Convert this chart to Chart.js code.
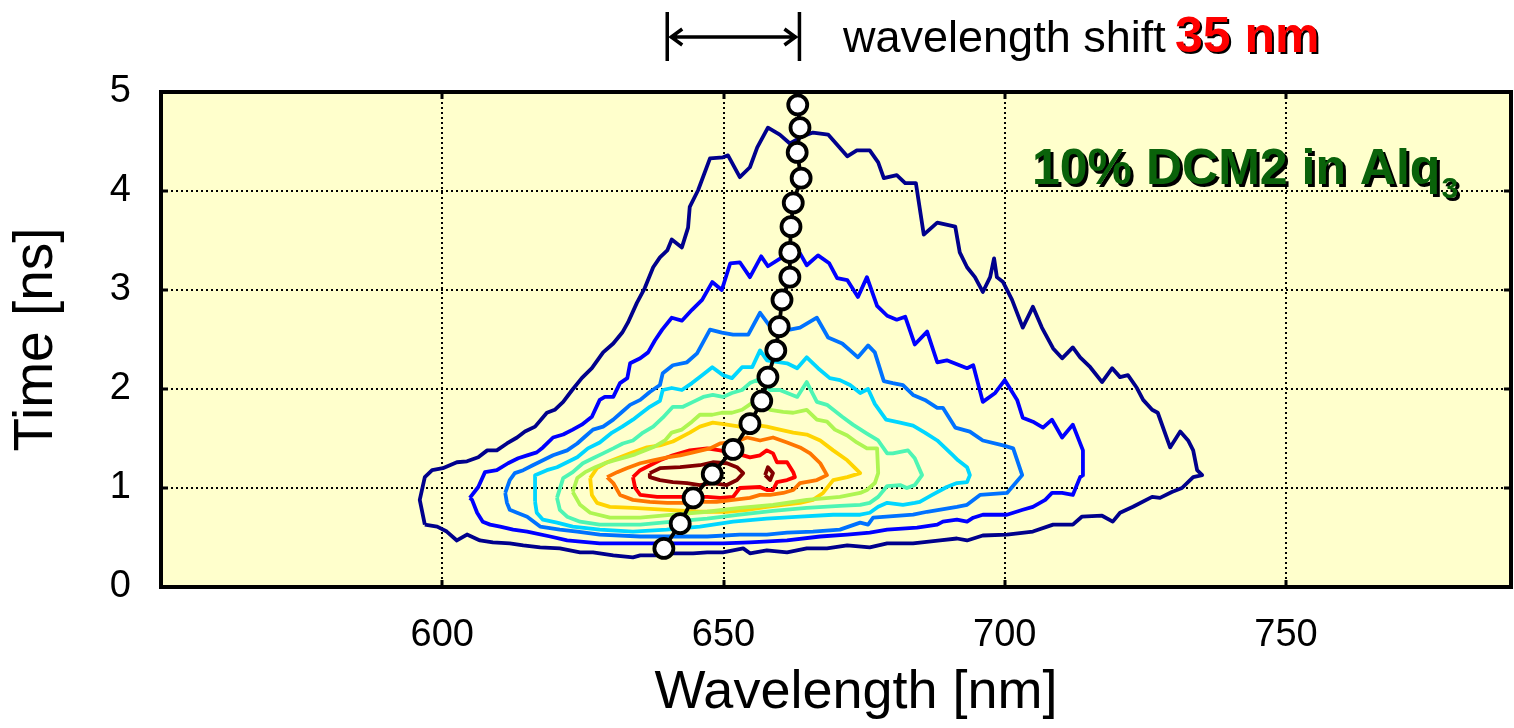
<!DOCTYPE html>
<html>
<head>
<meta charset="utf-8">
<script src="https://cdn.jsdelivr.net/npm/chart.js@4.4.1/dist/chart.umd.min.js"></script>
<style>
  html, body { margin: 0; padding: 0; background: #fff; }
</style>
</head>
<body>
<canvas id="chart" width="1514" height="728"></canvas>
<script>
// axis setup
const xRange = [550, 790];
const yRange = [0, 5];
const xTicks = [600, 650, 700, 750];
const yTicks = [0, 1, 2, 3, 4, 5];

// jet colour for each contour level, outermost first
const levelColors = ["#00008c", "#0000ff", "#0072ff", "#00d6ff", "#4ef5b4", "#aef552", "#ffd400", "#ff7600", "#ff0000", "#820000"];

// contour lines, [wavelength nm, time ns]
const contourNavy = [[596.9,0.63],[596.0,0.88],[596.9,1.11],[598.2,1.18],[600.1,1.20],[602.6,1.26],[604.4,1.27],[606.4,1.31],[608.0,1.38],[609.7,1.38],[611.5,1.45],[613.3,1.51],[614.7,1.57],[616.5,1.62],[618.6,1.76],[620.0,1.79],[621.5,1.87],[623.1,1.99],[624.8,2.11],[626.6,2.21],[628.6,2.37],[630.4,2.46],[632.0,2.57],[633.0,2.67],[634.6,2.87],[636.0,3.02],[637.5,3.23],[638.7,3.33],[640.0,3.40],[640.8,3.51],[642.6,3.43],[643.7,3.63],[644.0,3.84],[645.5,4.01],[647.6,4.33],[649.9,4.34],[650.8,4.36],[652.9,4.14],[654.7,4.24],[656.0,4.44],[657.9,4.64],[660.0,4.57],[661.8,4.48],[664.0,4.55],[665.9,4.59],[668.6,4.57],[672.0,4.35],[673.7,4.41],[676.0,4.41],[677.5,4.29],[678.5,4.13],[680.8,4.16],[682.3,4.08],[684.2,4.08],[685.6,3.56],[688.0,3.68],[691.2,3.64],[692.0,3.38],[693.3,3.23],[694.7,3.13],[696.1,2.98],[697.4,3.13],[698.1,3.32],[698.6,3.13],[699.7,3.08],[701.3,2.90],[703.2,2.62],[705.0,2.83],[706.6,2.62],[708.6,2.41],[710.2,2.31],[712.1,2.42],[713.4,2.32],[715.2,2.22],[717.3,2.07],[719.1,2.21],[720.5,2.12],[721.9,2.14],[723.5,2.01],[724.6,1.89],[726.2,1.79],[727.2,1.76],[729.4,1.41],[731.2,1.57],[732.6,1.48],[733.5,1.38],[734.2,1.18],[735.1,1.13],[733.5,1.11],[731.5,1.00],[729.7,0.96],[727.6,0.90],[726.2,0.91],[722.8,0.81],[720.5,0.75],[719.2,0.66],[717.3,0.72],[713.7,0.71],[712.1,0.63],[708.6,0.63],[705.0,0.56],[700.4,0.53],[696.1,0.52],[693.3,0.47],[691.5,0.49],[688.5,0.47],[683.7,0.44],[679.1,0.44],[676.0,0.40],[672.0,0.42],[668.4,0.39],[664.8,0.39],[661.3,0.35],[657.7,0.37],[654.7,0.34],[653.5,0.39],[649.9,0.35],[647.1,0.35],[644.6,0.34],[641.0,0.34],[638.7,0.32],[635.2,0.32],[633.9,0.30],[630.4,0.32],[626.8,0.35],[624.5,0.35],[620.9,0.39],[617.4,0.40],[614.4,0.42],[612.0,0.44],[609.0,0.45],[606.7,0.47],[604.4,0.53],[602.6,0.47],[600.8,0.56],[599.1,0.61],[596.9,0.63]];
const contourBlue = [[604.9,0.90],[606.4,1.01],[607.6,1.16],[609.7,1.18],[611.7,1.25],[613.5,1.30],[615.1,1.33],[616.8,1.36],[617.9,1.41],[619.7,1.51],[621.5,1.54],[623.2,1.59],[624.8,1.64],[626.6,1.72],[628.0,1.89],[628.9,1.92],[630.4,1.92],[631.6,2.06],[632.9,2.11],[633.4,2.26],[635.2,2.31],[636.6,2.37],[637.8,2.49],[639.1,2.60],[640.8,2.72],[642.6,2.69],[644.4,2.80],[646.2,2.90],[648.0,3.08],[649.7,3.00],[651.2,3.27],[652.9,3.28],[654.7,3.13],[656.7,3.34],[657.9,3.24],[660.4,3.33],[663.6,3.37],[664.8,3.25],[666.8,3.35],[668.8,3.27],[670.2,3.12],[672.0,3.10],[673.9,2.93],[675.5,3.13],[677.3,2.84],[679.1,2.74],[680.8,2.70],[682.3,2.73],[684.0,2.45],[686.2,2.58],[688.0,2.27],[689.7,2.29],[693.3,2.21],[694.4,2.24],[696.1,1.87],[698.3,1.96],[700.0,2.09],[702.2,1.89],[703.2,1.71],[705.0,1.67],[706.8,1.61],[708.4,1.69],[710.2,1.51],[712.1,1.64],[713.9,1.38],[713.9,1.13],[713.4,1.11],[712.1,0.93],[710.2,0.95],[708.4,0.95],[707.2,0.88],[705.0,0.81],[703.2,0.78],[700.4,0.73],[696.1,0.73],[694.4,0.70],[693.3,0.66],[691.5,0.68],[689.0,0.66],[688.0,0.63],[684.4,0.60],[679.1,0.58],[676.0,0.55],[672.0,0.53],[667.2,0.51],[661.3,0.47],[654.7,0.45],[649.9,0.44],[644.0,0.44],[637.5,0.44],[628.0,0.44],[622.2,0.47],[619.2,0.51],[615.1,0.56],[612.6,0.58],[610.3,0.61],[608.5,0.63],[607.2,0.66],[606.2,0.75],[605.3,0.88],[604.9,0.90]];
const contourAzure = [[611.2,0.95],[612.0,1.08],[612.9,1.15],[614.4,1.18],[616.1,1.23],[617.9,1.28],[619.7,1.33],[622.2,1.38],[624.0,1.45],[625.4,1.52],[626.8,1.59],[628.6,1.62],[630.4,1.69],[632.0,1.77],[633.4,1.84],[635.2,1.89],[636.9,1.97],[638.7,2.04],[639.2,2.16],[641.0,2.24],[643.5,2.27],[645.3,2.36],[647.6,2.60],[649.7,2.57],[651.7,2.55],[654.4,2.55],[656.5,2.77],[658.3,2.63],[659.7,2.65],[661.8,2.60],[663.6,2.62],[666.6,2.72],[668.6,2.52],[671.1,2.46],[672.5,2.39],[673.9,2.32],[675.7,2.44],[676.9,2.37],[678.5,2.08],[680.1,2.06],[681.9,2.04],[683.7,1.94],[685.8,1.89],[688.0,1.81],[689.0,1.81],[691.2,1.61],[693.8,1.57],[696.1,1.48],[699.7,1.43],[701.5,1.40],[703.1,1.13],[700.4,0.95],[695.6,0.93],[693.3,0.83],[691.5,0.81],[686.2,0.76],[683.7,0.73],[676.6,0.70],[675.7,0.63],[674.3,0.65],[670.7,0.58],[665.9,0.56],[661.3,0.55],[657.7,0.53],[652.9,0.53],[647.1,0.51],[641.0,0.51],[635.2,0.51],[628.0,0.53],[624.0,0.56],[620.9,0.58],[617.4,0.61],[615.1,0.71],[613.3,0.75],[612.0,0.78],[611.5,0.85],[611.2,0.95]];
const contourCyan = [[616.5,0.86],[616.5,1.13],[618.6,1.18],[620.4,1.21],[622.2,1.26],[624.0,1.31],[625.9,1.40],[628.0,1.46],[630.2,1.56],[632.0,1.62],[633.9,1.69],[635.5,1.76],[636.9,1.82],[638.7,1.88],[639.2,1.99],[640.8,2.01],[642.6,1.99],[644.4,2.06],[646.2,2.14],[648.0,2.22],[649.9,2.14],[651.5,2.11],[653.3,2.22],[655.1,2.22],[656.5,2.39],[657.7,2.29],[661.3,2.26],[663.1,2.21],[664.8,2.32],[666.8,2.21],[668.9,2.11],[670.7,2.09],[672.5,2.04],[674.3,1.96],[675.7,2.00],[676.9,1.85],[678.9,1.69],[681.4,1.66],[683.7,1.63],[685.8,1.56],[688.0,1.48],[690.8,1.33],[691.7,1.28],[693.3,1.21],[693.8,1.13],[693.3,1.06],[691.5,1.05],[689.7,1.01],[687.1,0.93],[684.9,0.86],[684.0,0.85],[681.9,0.83],[679.1,0.85],[677.5,0.81],[676.0,0.75],[674.3,0.73],[669.5,0.73],[663.6,0.71],[657.7,0.69],[651.7,0.66],[645.8,0.61],[639.9,0.58],[633.9,0.56],[628.0,0.58],[623.2,0.61],[620.4,0.65],[617.9,0.68],[616.8,0.75],[616.5,0.86]];
const contourAqua = [[620.4,0.90],[621.5,1.10],[623.2,1.16],[625.0,1.25],[626.8,1.30],[628.6,1.35],[630.4,1.40],[632.1,1.45],[633.9,1.48],[635.7,1.56],[637.5,1.62],[639.2,1.71],[641.0,1.82],[642.8,1.82],[644.6,1.87],[646.4,1.92],[648.1,1.94],[649.9,1.92],[651.5,1.96],[653.3,1.99],[654.7,2.06],[656.0,2.09],[658.3,1.99],[660.0,1.99],[663.1,1.92],[664.8,2.07],[666.6,1.87],[668.4,1.84],[671.1,1.72],[673.0,1.64],[675.5,1.55],[677.5,1.48],[679.1,1.35],[680.1,1.35],[682.8,1.38],[684.0,1.30],[685.3,1.13],[684.0,1.03],[682.6,1.00],[681.4,1.03],[679.1,1.02],[677.5,0.91],[676.0,0.85],[674.3,0.83],[670.7,0.82],[664.8,0.80],[658.8,0.77],[652.9,0.73],[647.1,0.69],[641.0,0.66],[635.2,0.63],[628.0,0.63],[624.5,0.66],[622.2,0.71],[620.9,0.78],[620.4,0.90]];
const contourLime = [[623.2,0.96],[624.0,1.10],[625.4,1.16],[627.2,1.21],[628.9,1.25],[630.7,1.28],[632.5,1.31],[634.3,1.34],[636.0,1.38],[637.8,1.42],[639.6,1.48],[640.8,1.56],[642.6,1.59],[644.4,1.67],[645.8,1.74],[648.0,1.74],[649.7,1.76],[651.5,1.76],[653.3,1.79],[655.1,1.86],[656.5,1.89],[658.3,1.79],[660.6,1.77],[662.4,1.76],[664.8,1.79],[666.6,1.69],[668.4,1.67],[669.8,1.59],[672.0,1.53],[673.7,1.46],[675.5,1.40],[677.3,1.40],[677.5,1.15],[676.9,1.05],[675.5,0.98],[674.3,0.95],[670.7,0.91],[664.8,0.88],[658.8,0.83],[652.9,0.80],[647.1,0.76],[641.0,0.73],[635.2,0.70],[629.8,0.70],[626.3,0.75],[624.5,0.83],[623.2,0.96]];
const contourGold = [[626.3,1.10],[627.5,1.20],[629.3,1.26],[631.6,1.31],[633.9,1.36],[636.4,1.41],[638.7,1.43],[641.0,1.47],[644.0,1.56],[645.8,1.62],[648.1,1.66],[650.6,1.64],[652.9,1.62],[655.2,1.64],[657.7,1.62],[660.0,1.59],[662.4,1.56],[664.8,1.54],[667.2,1.48],[669.5,1.38],[672.0,1.28],[674.3,1.15],[672.0,1.11],[669.5,1.08],[667.7,0.95],[665.9,0.88],[663.6,0.85],[660.6,0.83],[657.7,0.81],[654.2,0.78],[650.6,0.76],[645.8,0.76],[640.0,0.78],[633.9,0.80],[629.8,0.81],[627.5,0.85],[626.6,0.93],[626.3,1.10]];
const contourOrange = [[629.3,1.11],[631.1,1.16],[632.8,1.20],[635.2,1.25],[637.5,1.28],[640.0,1.31],[642.3,1.33],[644.6,1.36],[647.6,1.40],[649.4,1.45],[651.7,1.46],[654.2,1.51],[656.5,1.48],[658.8,1.51],[661.3,1.46],[663.6,1.41],[665.4,1.35],[667.2,1.25],[668.4,1.13],[666.6,1.08],[663.6,1.05],[662.4,0.98],[660.6,0.95],[658.3,0.93],[656.5,0.93],[654.7,0.90],[651.7,0.88],[648.8,0.86],[645.8,0.86],[642.8,0.85],[640.0,0.85],[636.9,0.86],[633.9,0.88],[631.6,0.93],[630.4,1.05],[629.3,1.11]];
const contourRed = [[633.9,1.11],[635.2,1.18],[638.7,1.28],[641.0,1.33],[644.0,1.38],[647.1,1.40],[649.4,1.38],[651.7,1.35],[653.5,1.33],[654.7,1.31],[656.5,1.33],[657.7,1.38],[658.8,1.35],[659.5,1.26],[661.3,1.26],[662.4,1.16],[662.7,1.11],[661.3,1.08],[659.5,1.06],[658.8,0.98],[657.7,0.98],[656.5,1.01],[652.9,1.00],[651.7,0.91],[649.4,0.90],[647.1,0.91],[644.0,0.91],[641.0,0.91],[638.2,0.91],[635.2,0.93],[634.3,1.00],[633.9,1.11]];
const contourMaroon = [[636.9,1.15],[638.7,1.20],[642.3,1.21],[645.8,1.23],[648.1,1.26],[650.6,1.25],[652.4,1.21],[653.5,1.15],[652.4,1.08],[650.6,1.03],[648.1,1.05],[645.8,1.03],[643.5,1.05],[641.0,1.06],[638.7,1.08],[636.9,1.11],[636.9,1.15]];
const contourMaroonSpot = [[657.4,1.13],[657.9,1.21],[658.8,1.15],[658.3,1.08],[657.4,1.13]];

const contours = [contourNavy, contourBlue, contourAzure, contourCyan, contourAqua, contourLime, contourGold, contourOrange, contourRed, contourMaroon, contourMaroonSpot];
const contourLevel = [0, 1, 2, 3, 4, 5, 6, 7, 8, 9, 9];

// emission peak at each time slice
const peakWavelength = [639.4, 642.3, 644.6, 648.0, 651.7, 654.7, 656.8, 657.9, 659.3, 659.9, 660.4, 661.8, 661.8, 662.0, 662.4, 663.8, 663.1, 663.6, 663.2];
const peakTime = [0.39, 0.64, 0.90, 1.14, 1.39, 1.65, 1.88, 2.12, 2.39, 2.63, 2.90, 3.13, 3.38, 3.64, 3.88, 4.13, 4.39, 4.64, 4.87];

// span of the shift marker above the plot
const shiftSpan = [640, 663.5];

const FONT = "'Liberation Sans', Arial, sans-serif";

const datasets = contours.map((pts, i) => ({
  data: pts.map(([x, y]) => ({ x, y })),
  showLine: true,
  borderColor: levelColors[contourLevel[i]],
  borderWidth: 3.8,
  borderJoinStyle: "round",
  pointRadius: 0,
  tension: 0,
  fill: false,
  order: 1,
}));

datasets.push({
  data: peakWavelength.map((x, i) => ({ x, y: peakTime[i] })),
  showLine: true,
  borderColor: "#000",
  borderWidth: 3.8,
  pointRadius: 9.5,
  pointBorderWidth: 3.8,
  pointBackgroundColor: "#fff",
  pointBorderColor: "#000",
  tension: 0,
  order: -1,
});

const framePlugin = {
  id: "frame",
  beforeDraw(chart) {
    const { ctx, chartArea: a } = chart;
    ctx.save();
    ctx.fillStyle = "#fff";
    ctx.fillRect(0, 0, chart.width, chart.height);
    ctx.fillStyle = "#ffffcc";
    ctx.fillRect(a.left, a.top, a.right - a.left, a.bottom - a.top);
    ctx.restore();
  },
  beforeDatasetsDraw(chart) {
    const { ctx, chartArea: a, scales } = chart;
    ctx.save();
    ctx.strokeStyle = "#000";
    ctx.lineWidth = 2;
    ctx.setLineDash([2, 3]);
    xTicks.forEach((v) => {
      const px = Math.round(scales.x.getPixelForValue(v));
      ctx.beginPath();
      ctx.moveTo(px, a.top);
      ctx.lineTo(px, a.bottom);
      ctx.stroke();
    });
    yTicks.slice(1, -1).forEach((v) => {
      const py = Math.round(scales.y.getPixelForValue(v));
      ctx.beginPath();
      ctx.moveTo(a.left, py);
      ctx.lineTo(a.right, py);
      ctx.stroke();
    });
    ctx.restore();
  },
  afterDatasetsDraw(chart) {
    const { ctx, chartArea: a, scales } = chart;
    ctx.save();
    ctx.strokeStyle = "#000";
    ctx.lineWidth = 3;
    const tl = 7;
    xTicks.forEach((v) => {
      const px = Math.round(scales.x.getPixelForValue(v));
      ctx.beginPath();
      ctx.moveTo(px, a.bottom); ctx.lineTo(px, a.bottom - tl);
      ctx.moveTo(px, a.top); ctx.lineTo(px, a.top + tl);
      ctx.stroke();
    });
    yTicks.forEach((v) => {
      const py = Math.round(scales.y.getPixelForValue(v));
      ctx.beginPath();
      ctx.moveTo(a.left, py); ctx.lineTo(a.left + tl, py);
      ctx.moveTo(a.right, py); ctx.lineTo(a.right - tl, py);
      ctx.stroke();
    });
    ctx.lineWidth = 4;
    ctx.strokeRect(a.left, a.top, a.right - a.left, a.bottom - a.top);
    ctx.restore();
  },
  afterDraw(chart) {
    const { ctx, chartArea: a, scales } = chart;
    ctx.save();

    // x axis title, sits a little right of centre in the original
    ctx.fillStyle = "#000";
    ctx.textAlign = "center";
    ctx.textBaseline = "alphabetic";
    ctx.font = "54px " + FONT;
    ctx.fillText("Wavelength [nm]", 856, 708);

    // wavelength shift marker
    const x0 = scales.x.getPixelForValue(shiftSpan[0]);
    const x1 = scales.x.getPixelForValue(shiftSpan[1]);
    const ym = 37;
    ctx.strokeStyle = "#000";
    ctx.lineWidth = 3.5;
    ctx.beginPath();
    ctx.moveTo(x0, 12); ctx.lineTo(x0, 61);
    ctx.moveTo(x1, 12); ctx.lineTo(x1, 61);
    ctx.moveTo(x0 + 3, ym); ctx.lineTo(x1 - 3, ym);
    ctx.moveTo(x0 + 15, ym - 8); ctx.lineTo(x0 + 4, ym); ctx.lineTo(x0 + 15, ym + 8);
    ctx.moveTo(x1 - 15, ym - 8); ctx.lineTo(x1 - 4, ym); ctx.lineTo(x1 - 15, ym + 8);
    ctx.stroke();

    ctx.textAlign = "left";
    ctx.fillStyle = "#000";
    ctx.font = "45px " + FONT;
    ctx.fillText("wavelength shift", 843, 52);

    ctx.font = "bold 50px " + FONT;
    ctx.fillStyle = "#000";
    ctx.fillText("35 nm", 1177, 54);
    ctx.fillStyle = "#ff0000";
    ctx.fillText("35 nm", 1175, 52);

    // sample label
    const label = "10% DCM2 in Alq";
    const lx = a.right - 479, ly = 184;
    ctx.font = "bold 50px " + FONT;
    const w = ctx.measureText(label).width;
    ctx.fillStyle = "#000";
    ctx.fillText(label, lx + 3, ly + 3);
    ctx.font = "bold 30px " + FONT;
    ctx.fillText("3", lx + w + 4, ly + 17);
    ctx.fillStyle = "#0a620a";
    ctx.font = "bold 50px " + FONT;
    ctx.fillText(label, lx, ly);
    ctx.font = "bold 30px " + FONT;
    ctx.fillText("3", lx + w + 1, ly + 14);
    ctx.restore();
  },
};

new Chart(document.getElementById("chart"), {
  type: "scatter",
  data: { datasets },
  options: {
    responsive: false,
    animation: false,
    events: [],
    layout: { autoPadding: false, padding: { top: 92, right: 3, left: 0, bottom: 0 } },
    plugins: { legend: { display: false }, tooltip: { enabled: false } },
    scales: {
      x: {
        type: "linear",
        min: xRange[0],
        max: xRange[1],
        afterBuildTicks: (s) => { s.ticks = xTicks.map((v) => ({ value: v })); },
        afterFit: (s) => { s.height = 141; s.paddingLeft = 0; s.paddingRight = 0; },
        grid: { display: false },
        border: { display: false },
        ticks: { color: "#000", font: { size: 38, family: FONT }, padding: 18, maxRotation: 0, autoSkip: false },
        title: { display: false },
      },
      y: {
        type: "linear",
        min: yRange[0],
        max: yRange[1],
        afterBuildTicks: (s) => { s.ticks = yTicks.map((v) => ({ value: v })); },
        afterFit: (s) => { s.width = 161; s.paddingTop = 0; s.paddingBottom = 0; },
        grid: { display: false },
        border: { display: false },
        ticks: { color: "#000", font: { size: 38, family: FONT }, padding: 22, autoSkip: false },
        title: { display: true, text: "Time [ns]", color: "#000", font: { size: 55, family: FONT }, padding: { top: 4, bottom: 0 } },
      },
    },
  },
  plugins: [framePlugin],
});
</script>
</body>
</html>
